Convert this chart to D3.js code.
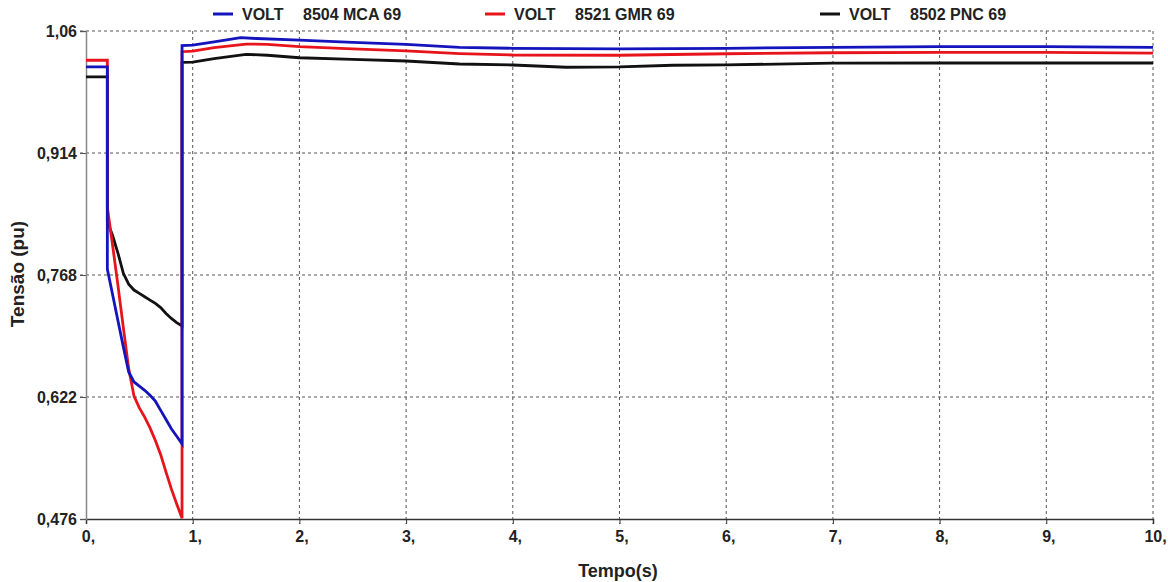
<!DOCTYPE html>
<html><head><meta charset="utf-8">
<script src="https://cdn.jsdelivr.net/npm/d3@7"></script>
<style>
body{margin:0;background:#fff;}
text{font-family:"Liberation Sans",Arial,sans-serif;font-weight:bold;fill:#222;}
</style></head>
<body><svg id="c" width="1168" height="582"></svg>
<script>
const xTicks = [0,1,2,3,4,5,6,7,8,9,10];
const xTickLabels = ["0,","1,","2,","3,","4,","5,","6,","7,","8,","9,","10,"];
const yTicks = [0.476,0.622,0.768,0.914,1.06];
const yTickLabels = ["0,476","0,622","0,768","0,914","1,06"];
const seriesKind = ["VOLT","VOLT","VOLT"];
const seriesNames = ["8504 MCA 69","8521 GMR 69","8502 PNC 69"];
const seriesColors = ["#1414bc","#e8141c","#111111"];

const timeMCA = [0,0.2,0.2,0.25,0.3,0.35,0.4,0.45,0.5,0.55,0.6,0.65,0.7,0.75,0.8,0.85,0.9,0.9,1.0,1.2,1.45,1.6,2.0,2.5,3.0,3.5,4.0,5.0,6.0,7.0,8.0,9.0,10.0];
const voltMCA = [1.017,1.017,0.775,0.744,0.713,0.682,0.652,0.64,0.635,0.63,0.624,0.617,0.606,0.595,0.584,0.575,0.566,1.0424,1.043,1.047,1.052,1.051,1.049,1.0465,1.044,1.0405,1.0393,1.0385,1.0393,1.0405,1.0412,1.0412,1.0405];

const timeGMR = [0,0.2,0.2,0.25,0.3,0.35,0.4,0.45,0.5,0.55,0.6,0.65,0.7,0.75,0.8,0.85,0.9,0.9,1.0,1.2,1.5,1.7,2.0,2.5,3.0,3.5,4.0,5.0,6.0,7.0,8.0,9.0,10.0];
const voltGMR = [1.025,1.025,0.849,0.803,0.755,0.705,0.656,0.623,0.609,0.598,0.585,0.57,0.553,0.532,0.512,0.494,0.477,1.0352,1.036,1.040,1.0444,1.044,1.0412,1.0385,1.0361,1.033,1.0313,1.031,1.0328,1.034,1.0345,1.0345,1.0335];

const timePNC = [0,0.2,0.2,0.25,0.3,0.35,0.4,0.45,0.5,0.55,0.6,0.65,0.7,0.75,0.8,0.85,0.9,0.9,1.0,1.2,1.5,1.7,2.0,2.5,3.0,3.5,4.0,4.5,5.0,5.5,6.0,7.0,8.0,9.0,10.0];
const voltPNC = [1.005,1.005,0.832,0.815,0.794,0.770,0.757,0.750,0.746,0.742,0.738,0.734,0.729,0.722,0.716,0.711,0.707,1.0225,1.0228,1.027,1.0321,1.031,1.028,1.026,1.0241,1.0205,1.0193,1.0166,1.017,1.019,1.0195,1.0215,1.0217,1.0217,1.0217];

const svg = d3.select("#c");
const x = d3.scaleLinear().domain([0,10]).range([86,1153]);
const y = d3.scaleLinear().domain([0.476,1.06]).range([519,31]);

// grid
const g = svg.append("g");
g.selectAll("line.vg").data(xTicks.slice(1)).enter().append("line")
  .attr("x1",d=>x(d)).attr("x2",d=>x(d)).attr("y1",y(1.06)).attr("y2",y(0.476)+5)
  .attr("stroke","#555").attr("stroke-width",1).attr("stroke-dasharray","3,3");
g.selectAll("line.hg").data(yTicks.slice(1)).enter().append("line")
  .attr("x1",x(0)-6).attr("x2",x(10)).attr("y1",d=>y(d)).attr("y2",d=>y(d))
  .attr("stroke","#555").attr("stroke-width",1).attr("stroke-dasharray","3,3");

// axes
const xAxis = d3.axisBottom(x).tickValues(xTicks).tickSize(5).tickFormat((d,i)=>xTickLabels[i]);
const ax = svg.append("g").attr("transform",`translate(0,${y(0.476)})`).call(xAxis);
ax.select(".domain").attr("stroke","#333").attr("stroke-width",1.5);
ax.selectAll(".tick line").attr("stroke","#333");
ax.selectAll("text").attr("font-size",16).attr("y",12).attr("dy","0.71em").attr("dx","2");
const yAxis = d3.axisLeft(y).tickValues(yTicks).tickSize(6).tickFormat((d,i)=>yTickLabels[i]);
const ay = svg.append("g").attr("transform",`translate(${x(0)},0)`).call(yAxis);
ay.select(".domain").attr("stroke","#888").attr("stroke-width",1.5);
ay.selectAll(".tick line").attr("stroke","#555");
ay.selectAll("text").attr("font-size",16).attr("x",-9);

// lines
const line = d3.line().x(d=>x(d[0])).y(d=>y(d[1]));
const series = [
  {t:timePNC,v:voltPNC,c:seriesColors[2]},
  {t:timeGMR,v:voltGMR,c:seriesColors[1]},
  {t:timeMCA,v:voltMCA,c:seriesColors[0]}
];
series.forEach(s=>{
  svg.append("path").datum(s.t.map((t,i)=>[t,s.v[i]]))
    .attr("d",line).attr("fill","none").attr("stroke",s.c).attr("stroke-width",2.8)
    .attr("stroke-linejoin","miter");
});

// legend
const legX = [213,485,820];
seriesNames.forEach((n,i)=>{
  svg.append("line").attr("x1",legX[i]).attr("x2",legX[i]+20).attr("y1",14).attr("y2",14)
    .attr("stroke",seriesColors[i]).attr("stroke-width",3);
  svg.append("text").attr("x",legX[i]+29).attr("y",20).attr("font-size",16).text(seriesKind[i]);
  svg.append("text").attr("x",legX[i]+90).attr("y",20).attr("font-size",16).text(n);
});

// axis titles
svg.append("text").attr("x",618).attr("y",577).attr("text-anchor","middle").attr("font-size",18).text("Tempo(s)");
svg.append("text").attr("transform","translate(24,274) rotate(-90)").attr("text-anchor","middle").attr("font-size",19).text("Tensão (pu)");
</script></body></html>
